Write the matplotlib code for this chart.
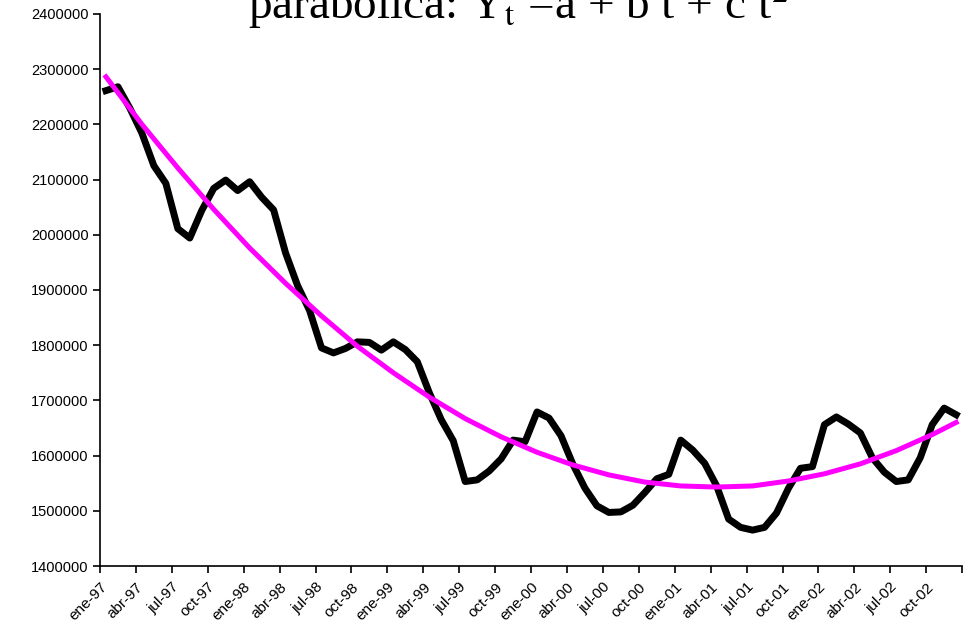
import matplotlib.pyplot as plt

# monthly series ene-97 .. dic-02
valores = [2261000, 2268000, 2229000, 2184000, 2125000, 2093000, 2011000, 1994000,
           2044000, 2084000, 2099000, 2080000, 2096000, 2068000, 2045000, 1967000,
           1908000, 1863000, 1795000, 1786000, 1794000, 1806000, 1805000, 1791000,
           1806000, 1792000, 1770000, 1714000, 1665000, 1627000, 1553000, 1556000,
           1572000, 1594000, 1628000, 1625000, 1679000, 1668000, 1636000, 1584000,
           1541000, 1509000, 1497000, 1498000, 1510000, 1533000, 1558000, 1566000,
           1628000, 1610000, 1586000, 1545000, 1485000, 1470000, 1465000, 1470000,
           1496000, 1541000, 1577000, 1580000, 1656000, 1670000, 1657000, 1641000,
           1596000, 1570000, 1553000, 1556000, 1596000, 1656000, 1686000, 1674000]

# parabolic trend, read every 3 months (last one at dic-02)
tendencia_mes = [0, 3, 6, 9, 12, 15, 18, 21, 24, 27, 30, 33, 36, 39, 42, 45, 48,
                 51, 54, 57, 60, 63, 66, 69, 71]
tendencia = [2286000, 2200000, 2121000, 2046000, 1976000, 1912000, 1853000,
             1798000, 1750000, 1706000, 1667000, 1634000, 1606000, 1583000,
             1565000, 1552000, 1545000, 1543000, 1545000, 1554000, 1567000,
             1585000, 1609000, 1638000, 1660000]

etiquetas = ['ene-97', 'abr-97', 'jul-97', 'oct-97', 'ene-98', 'abr-98', 'jul-98', 'oct-98',
             'ene-99', 'abr-99', 'jul-99', 'oct-99', 'ene-00', 'abr-00', 'jul-00', 'oct-00',
             'ene-01', 'abr-01', 'jul-01', 'oct-01', 'ene-02', 'abr-02', 'jul-02', 'oct-02']

plt.rcParams['font.family'] = 'Liberation Sans'
plt.rcParams['mathtext.fontset'] = 'stix'

fig = plt.figure(figsize=(9.66, 6.31), dpi=100)
ax = fig.add_axes([0.1035, 0.103, 0.8925, 0.875])

x = [i + 0.5 for i in range(len(valores))]
xt = [m + 0.5 for m in tendencia_mes]
ax.plot(x, valores, color='black', lw=5, solid_joinstyle='round', zorder=2)
ax.plot(xt, tendencia, color='#ff00ff', lw=3.6, zorder=3)

ax.set_xlim(0, 72)
ax.set_ylim(1400000, 2400000)
ax.set_yticks(range(1400000, 2400001, 100000))
ax.set_yticklabels([str(v) for v in range(1400000, 2400001, 100000)])
ax.set_xticks(range(0, 73, 3))
ax.set_xticklabels(etiquetas + [''], rotation=45, ha='right', rotation_mode='anchor')

for s in ['top', 'right']:
    ax.spines[s].set_visible(False)
for s in ['left', 'bottom']:
    ax.spines[s].set_linewidth(1.2)
ax.tick_params(direction='out', length=5, width=1.2, labelsize=10.5, pad=3)
ax.tick_params(axis='x', labelsize=11, pad=5)

# title sits partly above the top edge, as in the original
fig.text(0.257, 0.97, r'parabólica: Y$_{\mathrm{t}}$ =a + b t + c t$^{2}$',
         fontfamily='Liberation Serif', fontsize=34, va='baseline', ha='left')

fig.savefig('out.png', dpi=100)
